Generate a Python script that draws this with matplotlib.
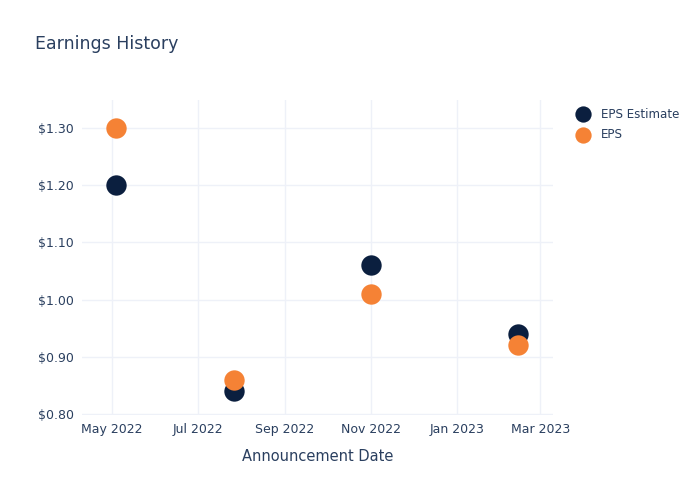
import matplotlib
matplotlib.use('Agg')
import matplotlib.pyplot as plt
import matplotlib.dates as mdates
import pandas as pd

# earnings data
dates = ['2022-05-04', '2022-07-27', '2022-11-01', '2023-02-13']
eps_estimate = [1.20, 0.84, 1.06, 0.94]
eps_actual = [1.30, 0.86, 1.01, 0.92]

TEXT = '#2a3f5f'
GRID = '#eef1f8'
NAVY = '#0b1f3f'
ORANGE = '#f58235'

x = pd.to_datetime(dates)

fig = plt.figure(figsize=(7, 5), dpi=100)
ax = fig.add_axes([0.117, 0.17, 0.673, 0.63])

ax.scatter(x, eps_estimate, s=215, color=NAVY, label='EPS Estimate', zorder=3, linewidths=0)
ax.scatter(x, eps_actual, s=215, color=ORANGE, label='EPS', zorder=4, linewidths=0)

ax.set_xlim(pd.Timestamp('2022-04-10'), pd.Timestamp('2023-03-10'))
ax.set_ylim(0.798, 1.349)

ax.xaxis.set_major_locator(mdates.MonthLocator(bymonth=[1, 3, 5, 7, 9, 11]))
ax.xaxis.set_major_formatter(mdates.DateFormatter('%b %Y'))
ax.set_yticks([0.8, 0.9, 1.0, 1.1, 1.2, 1.3])
ax.yaxis.set_major_formatter(plt.FuncFormatter(lambda v, p: f'${v:.2f}'))

for s in ax.spines.values():
    s.set_visible(False)
ax.grid(True, color=GRID, linewidth=1)
ax.set_axisbelow(True)
ax.tick_params(length=0, labelsize=9, colors=TEXT, pad=6)

ax.set_xlabel('Announcement Date', fontsize=10.5, color=TEXT, labelpad=9)

fig.text(0.05, 0.912, 'Earnings History', fontsize=12.5, color=TEXT, va='center')

leg = ax.legend(loc='upper left', bbox_to_anchor=(1.015, 1.01), frameon=False,
                fontsize=8.6, labelcolor=TEXT, handletextpad=0.5, labelspacing=0.62,
                markerscale=0.8)

fig.savefig('out.png', dpi=100)
